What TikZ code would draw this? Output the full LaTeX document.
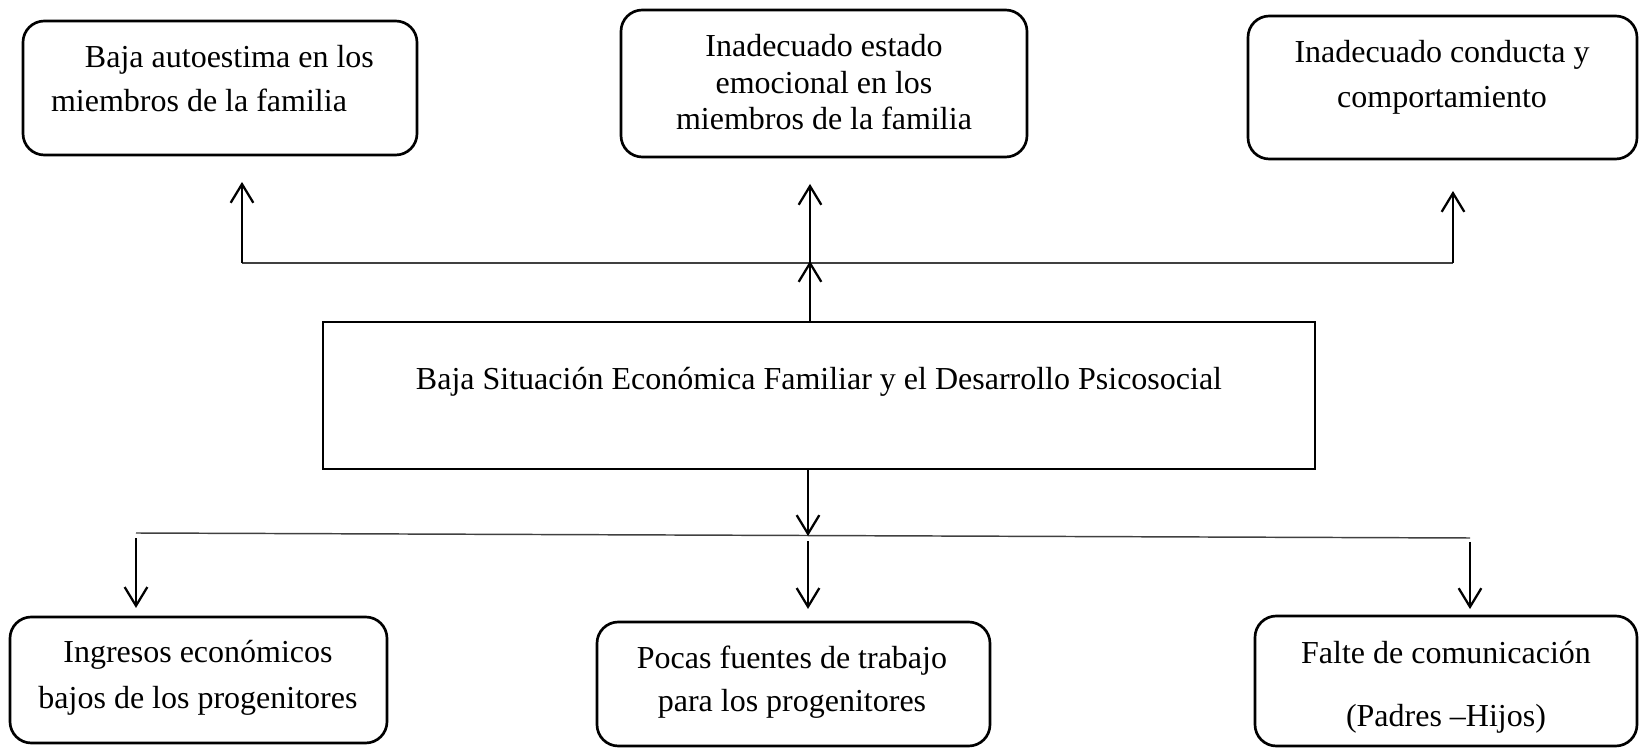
\documentclass[tikz,border=0pt]{standalone}
\usepackage{fontspec}
\setmainfont{Liberation Serif}
\usetikzlibrary{arrows.meta}
\newcommand\pxl[1]{#1*0.375pt}
\tikzset{
  rbox/.style={draw, line width=1pt, rounded corners=8pt, anchor=north west, inner sep=0pt, outer sep=0pt},
  sbox/.style={draw, line width=1.05pt, anchor=north west, inner sep=0pt, outer sep=0pt},
  txt/.style={inner sep=0pt, outer sep=0pt, font=\fontsize{12pt}{#1}\selectfont},
  arr/.style={-{Straight Barb[length=7pt,width=8.5pt]}, line width=0.85pt},
  hline/.style={line width=0.55pt, black!75},
}
\begin{document}
\begin{tikzpicture}[x=0.375pt, y=-0.375pt]
\useasboundingbox (0,0) rectangle (1641,748);

% boxes
\node[rbox, minimum width=\pxl{394}, minimum height=\pxl{134}] (b1) at (23,21) {};
\node[rbox, minimum width=\pxl{406}, minimum height=\pxl{147}] (b2) at (621,10) {};
\node[rbox, minimum width=\pxl{389}, minimum height=\pxl{143}] (b3) at (1248,16) {};
\node[sbox, minimum width=\pxl{992}, minimum height=\pxl{147}] (bc) at (323,322) {};
\node[rbox, minimum width=\pxl{377}, minimum height=\pxl{126}] (b4) at (10,617) {};
\node[rbox, minimum width=\pxl{393}, minimum height=\pxl{124}] (b5) at (597,622) {};
\node[rbox, minimum width=\pxl{382}, minimum height=\pxl{130}] (b6) at (1255,616) {};

% texts (base anchor = baseline of the last line)
\node[txt=16.5pt, align=left, anchor=base west] (t1) at (51,112)
  {\hspace*{12.75pt}Baja autoestima en los\\miembros de la familia};
\node[txt=13.75pt, align=center, anchor=base] (t2) at (824,130)
  {Inadecuado estado\\emocional en los\\miembros de la familia};
\node[txt=16.9pt, align=center, anchor=base] (t3) at (1442,108)
  {Inadecuado conducta y\\comportamiento};
\node[txt=14pt, anchor=base] (tc) at (819,390)
  {Baja Situación Económica Familiar y el Desarrollo Psicosocial};
\node[txt=16.9pt, align=center, anchor=base] (t4) at (198,708)
  {Ingresos económicos\\bajos de los progenitores};
\node[txt=16.5pt, align=center, anchor=base] (t5) at (792,712)
  {Pocas fuentes de trabajo\\para los progenitores};
\node[txt=24pt, align=center, anchor=base] (t6) at (1446,727)
  {Falte de comunicación\\(Padres –Hijos)};

% upper connectors
\coordinate (jl) at (242,263);
\coordinate (jm) at (810,263);
\coordinate (jr) at (1453,263);
\draw[hline] (jl) -- (jr);
\draw[arr, shorten >=10.1pt] (jl) -- (jl |- b1.south);
\draw[arr, shorten >=10.1pt] (jm) -- (jm |- b2.south);
\draw[arr, shorten >=12pt] (jr) -- (jr |- b3.south);
\draw[arr, shorten >=-0.75pt] (bc.north -| jm) -- (jm);

% lower connectors
\coordinate (bl) at (136,533);
\coordinate (bm) at (808,536);
\coordinate (br) at (1470,538);
\draw[hline] (bl) -- (br);
\draw[arr] (bc.south -| bm) -- (bm);
\draw[arr, shorten <=1.9pt, shorten >=3.4pt] (bl) -- (bl |- b4.north);
\draw[arr, shorten <=1.9pt, shorten >=4.9pt] (bm) -- (bm |- b5.north);
\draw[arr, shorten <=1.5pt, shorten >=2.6pt] (br) -- (br |- b6.north);
\end{tikzpicture}
\end{document}
